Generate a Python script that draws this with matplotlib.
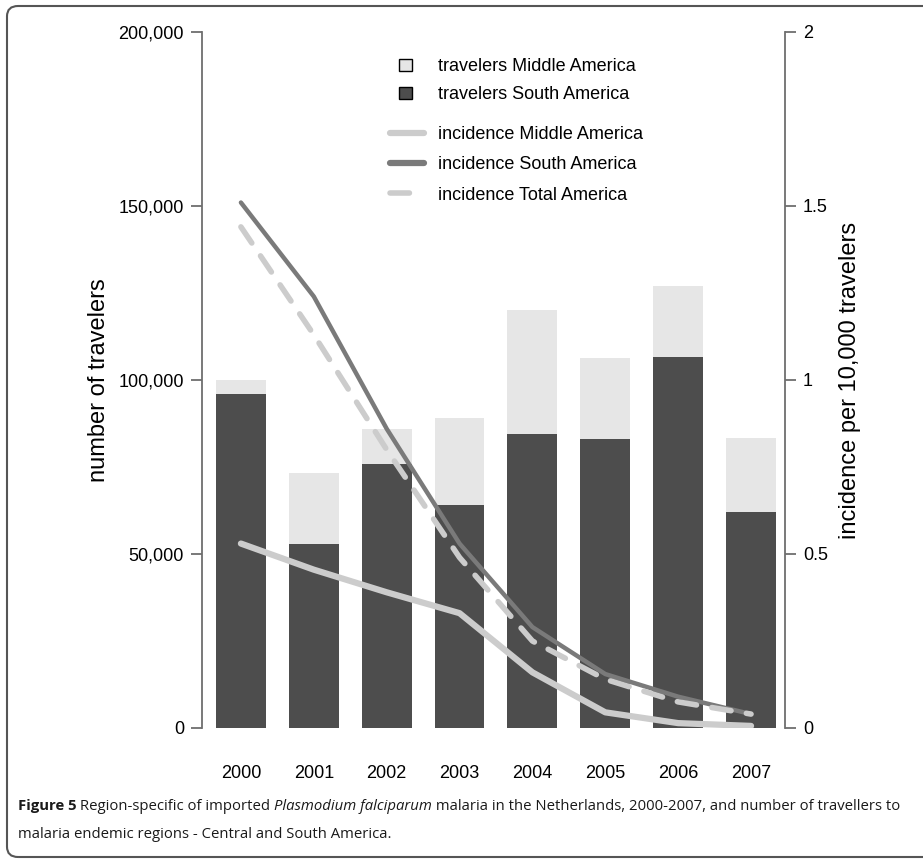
import numpy as np
import matplotlib.pyplot as plt
from matplotlib.patches import FancyBboxPatch
from matplotlib.lines import Line2D
from matplotlib.patches import Patch

years = ['2000', '2001', '2002', '2003', '2004', '2005', '2006', '2007']
travelers_south = [96000, 53000, 76000, 64000, 84600, 83000, 106500, 62000]
travelers_middle = [4000, 20200, 10000, 25000, 35400, 23300, 20600, 21300]
inc_middle = [0.53, 0.455, 0.39, 0.33, 0.16, 0.045, 0.014, 0.006]
inc_south = [1.51, 1.24, 0.86, 0.53, 0.29, 0.155, 0.09, 0.04]
inc_total = [1.44, 1.13, 0.80, 0.49, 0.25, 0.14, 0.075, 0.04]

left_ticks = [0, 50000, 100000, 150000, 200000]
right_ticks = [0, 0.5, 1, 1.5, 2]

W, H = 923, 859
fig = plt.figure(figsize=(W / 100, H / 100), dpi=100)
sans = ['Liberation Sans', 'DejaVu Sans']

ax = fig.add_axes([202 / W, 1 - 728 / H, (785 - 202) / W, (728 - 32) / H])
x = np.arange(len(years))
dark, light = '#4d4d4d', '#e6e6e6'
ax.bar(x, travelers_south, width=0.685, color=dark)
ax.bar(x, travelers_middle, width=0.685, bottom=travelers_south, color=light)
ax.set_xlim(-0.534, 7.466)
ax.set_ylim(0, 200000)

mid_col, south_col = '#cccccc', '#7a7a7a'
ax2 = ax.twinx()
ax2.set_ylim(0, 2)
ax2.plot(x, inc_middle, color=mid_col, lw=4.5, solid_capstyle='round')
ax2.plot(x, inc_south, color=south_col, lw=3.2, solid_capstyle='round')
ax2.plot(x, inc_total, color=mid_col, lw=4, dashes=(3.5, 2.8),
         dash_capstyle='round')

spine_col = '#6e6e6e'
for a in (ax, ax2):
    for s in ('top', 'bottom'):
        a.spines[s].set_visible(False)
ax.spines['right'].set_visible(False)
ax2.spines['left'].set_visible(False)
ax.spines['left'].set_color(spine_col)
ax2.spines['right'].set_color(spine_col)
ax.spines['left'].set_linewidth(1.3)
ax2.spines['right'].set_linewidth(1.3)

fs = 13
ax.set_xticks(x)
ax.set_xticklabels(years, fontfamily=sans, fontsize=fs)
ax.tick_params(axis='x', length=0, pad=27)
ax.set_yticks(left_ticks)
ax.set_yticklabels([f'{v:,}' for v in left_ticks], fontfamily=sans, fontsize=fs)
ax.tick_params(axis='y', length=8, width=1.3, color=spine_col, pad=5)
ax2.set_yticks(right_ticks)
ax2.set_yticklabels(['0', '0.5', '1', '1.5', '2'], fontfamily=sans, fontsize=fs)
ax2.tick_params(axis='y', length=8, width=1.3, color=spine_col, pad=5)

ax.set_ylabel('number of travelers', fontfamily=sans, fontsize=17, labelpad=6)
ax2.set_ylabel('incidence per 10,000 travelers', fontfamily=sans, fontsize=17,
               labelpad=8)

# legend: bar entries, then line entries a little further down
bar_handles = [Patch(facecolor=light, edgecolor='black', lw=1),
               Patch(facecolor=dark, edgecolor='black', lw=1)]
leg1 = ax2.legend(bar_handles, ['travelers Middle America', 'travelers South America'],
                  loc='upper left', bbox_to_anchor=(0.338, 0.962),
                  borderaxespad=0, borderpad=0,
                  frameon=False, handlelength=0.7, handleheight=0.7,
                  handletextpad=1.45, labelspacing=0.6,
                  prop={'family': sans, 'size': fs})
ax2.add_artist(leg1)
line_handles = [Line2D([], [], color=mid_col, lw=4.5, solid_capstyle='round'),
                Line2D([], [], color=south_col, lw=4.5, solid_capstyle='round'),
                Line2D([], [], color=mid_col, lw=4, dashes=(3.5, 2.8),
                       dash_capstyle='round')]
ax2.legend(line_handles, ['incidence Middle America', 'incidence South America',
                          'incidence Total America'],
           loc='upper left', bbox_to_anchor=(0.3225, 0.865),
           borderaxespad=0, borderpad=0,
           frameon=False, handlelength=1.9, handletextpad=0.75, labelspacing=0.74,
           prop={'family': sans, 'size': fs})

# rounded frame around the figure, running off the right edge
frame = FancyBboxPatch((7 / W, 1 - 857 / H), 1100 / W, (857 - 6) / H,
                       boxstyle='round,pad=0,rounding_size=0.012',
                       transform=fig.transFigure, fill=False,
                       edgecolor='#555555', lw=1.5)
fig.patches.append(frame)

# caption with mixed bold / italic runs
cap = ['Open Sans', 'DejaVu Sans']
renderer = fig.canvas.get_renderer()


def runs(parts, x0, y0):
    xp = x0
    for txt, kw in parts:
        t = fig.text(xp / W, 1 - y0 / H, txt, fontfamily=cap, fontsize=10.7,
                     va='baseline', ha='left', color='#1a1a1a', **kw)
        xp += t.get_window_extent(renderer).width


runs([('Figure 5', {'fontweight': 'bold'}),
      (' Region-specific of imported ', {}),
      ('Plasmodium falciparum', {'fontstyle': 'italic'}),
      (' malaria in the Netherlands, 2000-2007, and number of travellers to', {})],
     18, 810)
runs([('malaria endemic regions - Central and South America.', {})], 18, 838)

fig.savefig('out.png', dpi=100)
